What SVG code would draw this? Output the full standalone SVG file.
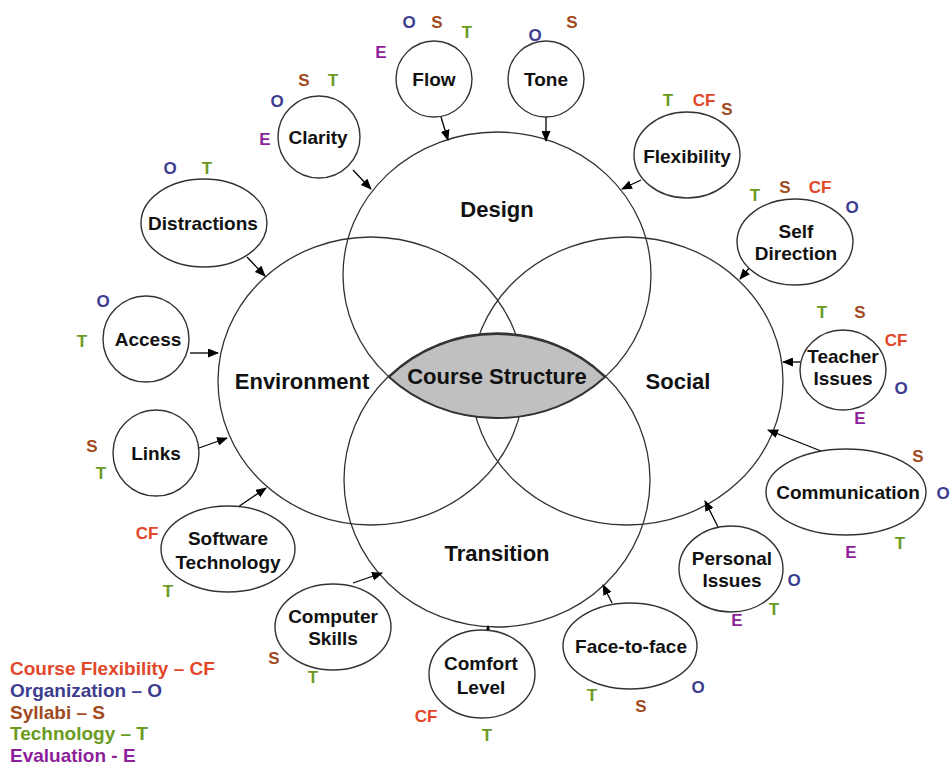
<svg xmlns="http://www.w3.org/2000/svg" width="951" height="767" viewBox="0 0 951 767">
<style>
.big{fill:none;stroke:#333;stroke-width:1.3}
.node{fill:#fff;stroke:#333;stroke-width:1.4}
.lens{fill:#c0c0c0;stroke:#333;stroke-width:2}
text{font-family:"Liberation Sans",Arial,sans-serif;font-weight:bold}
.lbl{font-size:19px;text-anchor:middle;fill:#111}
.blbl{font-size:22px;text-anchor:middle;fill:#111}
.tag{font-size:17px;text-anchor:middle}
.leg{font-size:19px}
.cf{fill:#e2472b}.o{fill:#3d3d8f}.s{fill:#a04a1e}.t{fill:#6a9a1e}.e{fill:#8d1f9a}
.arr{stroke:#000;stroke-width:1.3;fill:none;marker-end:url(#ah)}
</style>
<defs>
<marker id="ah" markerWidth="11" markerHeight="9" refX="10" refY="4.5" orient="auto" markerUnits="userSpaceOnUse"><path d="M0,0 L11,4.5 L0,9 z" fill="#000"/></marker>
</defs>
<rect width="951" height="767" fill="#fff"/>

<g id="core">
<ellipse class="big" cx="497" cy="275" rx="154" ry="143"/>
<ellipse class="big" cx="371" cy="381" rx="153" ry="144"/>
<ellipse class="big" cx="627" cy="381" rx="156" ry="144"/>
<ellipse class="big" cx="497" cy="480" rx="153" ry="147"/>
<path class="lens" d="M389,377 A153,147 0 0 1 605,377 A154,143 0 0 1 389,377 Z"/>
<text class="blbl" x="497" y="217">Design</text>
<text class="blbl" x="302" y="389">Environment</text>
<text class="blbl" x="497" y="384">Course Structure</text>
<text class="blbl" x="678" y="389">Social</text>
<text class="blbl" x="497" y="561">Transition</text>
</g>

<g id="connectors">
<line class="arr" x1="441" y1="117" x2="448" y2="140"/>
<line class="arr" x1="546" y1="117" x2="546" y2="141"/>
<line class="arr" x1="353" y1="170" x2="371" y2="189"/>
<line class="arr" x1="641" y1="180" x2="622" y2="189"/>
<line class="arr" x1="247" y1="257" x2="265" y2="276"/>
<line class="arr" x1="750" y1="267" x2="740" y2="279"/>
<line class="arr" x1="800" y1="362" x2="783" y2="362"/>
<line class="arr" x1="821" y1="451" x2="768" y2="430"/>
<line class="arr" x1="718" y1="527" x2="705" y2="501"/>
<line class="arr" x1="612" y1="603" x2="603" y2="585"/>
<line class="arr" x1="488" y1="631" x2="488" y2="626"/>
<line class="arr" x1="353" y1="583" x2="382" y2="573"/>
<line class="arr" x1="238" y1="507" x2="266" y2="488"/>
<line class="arr" x1="199" y1="448" x2="227" y2="438"/>
<line class="arr" x1="190" y1="353" x2="218" y2="353"/>
</g>

<g id="node-flow">
<ellipse class="node" cx="434" cy="79" rx="38" ry="38"/>
<text class="lbl" x="434" y="86">Flow</text>
<text class="tag e" x="381" y="58">E</text>
<text class="tag o" x="409" y="28">O</text>
<text class="tag s" x="437" y="28">S</text>
<text class="tag t" x="467" y="38">T</text>
</g>
<g id="node-tone">
<ellipse class="node" cx="546" cy="79" rx="38" ry="38"/>
<text class="lbl" x="546" y="86">Tone</text>
<text class="tag o" x="535" y="41">O</text>
<text class="tag s" x="572" y="28">S</text>
</g>
<g id="node-clarity">
<ellipse class="node" cx="319" cy="137" rx="41" ry="41"/>
<text class="lbl" x="318" y="144">Clarity</text>
<text class="tag o" x="277" y="107">O</text>
<text class="tag s" x="304" y="86">S</text>
<text class="tag t" x="333" y="86">T</text>
<text class="tag e" x="265" y="145">E</text>
</g>
<g id="node-flexibility">
<ellipse class="node" cx="687" cy="155" rx="53" ry="43"/>
<text class="lbl" x="687" y="163">Flexibility</text>
<text class="tag t" x="668" y="106">T</text>
<text class="tag cf" x="704" y="106">CF</text>
<text class="tag s" x="727" y="115">S</text>
</g>
<g id="node-selfdirection">
<ellipse class="node" cx="795" cy="242" rx="58" ry="43"/>
<text class="lbl" x="796" y="238">Self</text>
<text class="lbl" x="796" y="260">Direction</text>
<text class="tag t" x="755" y="201">T</text>
<text class="tag s" x="785" y="193">S</text>
<text class="tag cf" x="820" y="193">CF</text>
<text class="tag o" x="852" y="213">O</text>
</g>
<g id="node-teacher">
<ellipse class="node" cx="843" cy="370" rx="43" ry="40"/>
<text class="lbl" x="843" y="363">Teacher</text>
<text class="lbl" x="843" y="385">Issues</text>
<text class="tag t" x="822" y="318">T</text>
<text class="tag s" x="860" y="318">S</text>
<text class="tag cf" x="896" y="346">CF</text>
<text class="tag o" x="901" y="394">O</text>
<text class="tag e" x="860" y="424">E</text>
</g>
<g id="node-communication">
<ellipse class="node" cx="846" cy="492" rx="80" ry="43"/>
<text class="lbl" x="848" y="499">Communication</text>
<text class="tag s" x="918" y="462">S</text>
<text class="tag o" x="943" y="499">O</text>
<text class="tag t" x="900" y="549">T</text>
<text class="tag e" x="851" y="558">E</text>
</g>
<g id="node-personal">
<ellipse class="node" cx="731" cy="569" rx="52" ry="43"/>
<text class="lbl" x="732" y="565">Personal</text>
<text class="lbl" x="732" y="587">Issues</text>
<text class="tag o" x="794" y="586">O</text>
<text class="tag t" x="774" y="615">T</text>
<text class="tag e" x="737" y="626">E</text>
</g>
<g id="node-facetoface">
<ellipse class="node" cx="630" cy="646" rx="67" ry="43"/>
<text class="lbl" x="631" y="653">Face-to-face</text>
<text class="tag t" x="592" y="701">T</text>
<text class="tag s" x="641" y="712">S</text>
<text class="tag o" x="698" y="693">O</text>
</g>
<g id="node-comfort">
<ellipse class="node" cx="482" cy="674" rx="53" ry="44"/>
<text class="lbl" x="481" y="670">Comfort</text>
<text class="lbl" x="481" y="694">Level</text>
<text class="tag cf" x="426" y="722">CF</text>
<text class="tag t" x="487" y="741">T</text>
</g>
<g id="node-computer">
<ellipse class="node" cx="333" cy="627" rx="58" ry="43"/>
<text class="lbl" x="333" y="623">Computer</text>
<text class="lbl" x="333" y="645">Skills</text>
<text class="tag s" x="274" y="664">S</text>
<text class="tag t" x="313" y="683">T</text>
</g>
<g id="node-software">
<ellipse class="node" cx="228" cy="549" rx="67" ry="43"/>
<text class="lbl" x="228" y="545">Software</text>
<text class="lbl" x="228" y="569">Technology</text>
<text class="tag cf" x="147" y="539">CF</text>
<text class="tag t" x="168" y="597">T</text>
</g>
<g id="node-links">
<ellipse class="node" cx="156" cy="453" rx="43" ry="43"/>
<text class="lbl" x="156" y="460">Links</text>
<text class="tag s" x="92" y="452">S</text>
<text class="tag t" x="101" y="479">T</text>
</g>
<g id="node-access">
<ellipse class="node" cx="146" cy="339" rx="43" ry="43"/>
<text class="lbl" x="148" y="346">Access</text>
<text class="tag o" x="103" y="307">O</text>
<text class="tag t" x="82" y="347">T</text>
</g>
<g id="node-distractions">
<ellipse class="node" cx="204" cy="223" rx="63" ry="44"/>
<text class="lbl" x="203" y="230">Distractions</text>
<text class="tag o" x="170" y="174">O</text>
<text class="tag t" x="207" y="174">T</text>
</g>

<g id="legend">
<text class="leg cf" x="10" y="675">Course Flexibility – CF</text>
<text class="leg o" x="10" y="697">Organization – O</text>
<text class="leg s" x="10" y="719">Syllabi – S</text>
<text class="leg t" x="10" y="740">Technology – T</text>
<text class="leg e" x="10" y="762">Evaluation - E</text>
</g>
</svg>
